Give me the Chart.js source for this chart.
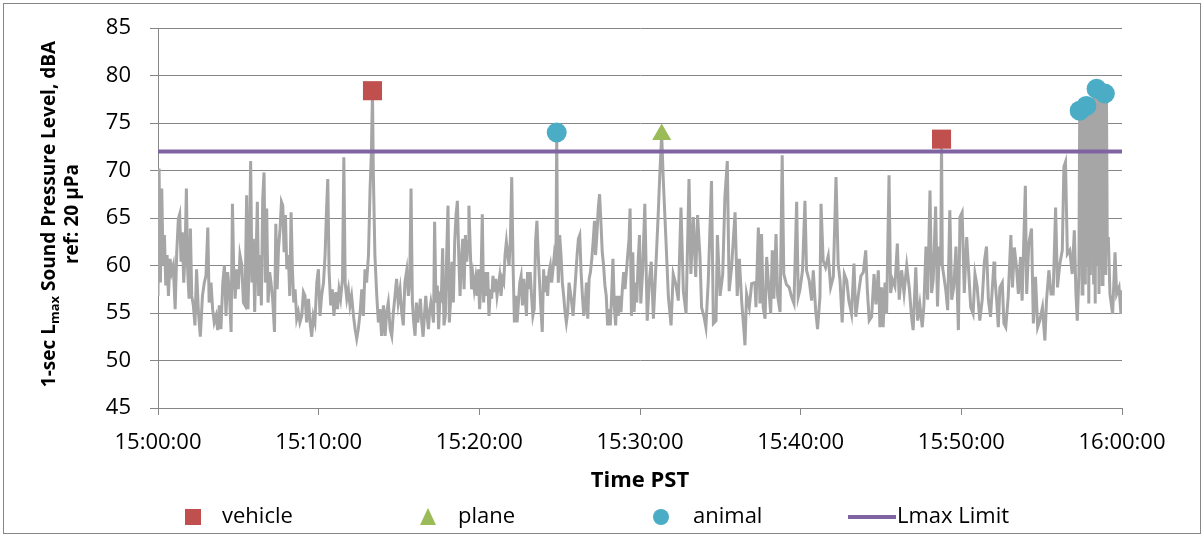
<!DOCTYPE html>
<html>
<head>
<meta charset="utf-8">
<script src="https://cdn.jsdelivr.net/npm/chart.js@4.4.0/dist/chart.umd.min.js"></script>
<style>
  html, body { margin: 0; padding: 0; background: #fff; }
  #wrap { width: 1204px; height: 537px; }
</style>
</head>
<body>
<div id="wrap"><canvas id="lmaxChart" width="1204" height="537"></canvas></div>
<script>
// 1-sec Lmax samples, seconds after 15:00:00 and dBA
var splSeconds = [
  0,4,9,14,19,24,29,34,39,45,51,57,64,70,76,81,86,91,96,101,106,111,116,121,126,132,138,144,151,158,166,173,179,186,191,198,204,210,217,223,
  229,235,242,248,254,260,266,273,278,283,288,294,300,306,313,319,325,331,336,341,346,351,356,361,366,371,376,381,386,391,396,401,406,411,417,422,428,435,440,445,
  450,456,461,466,471,476,481,487,492,497,502,507,512,518,524,530,537,543,549,555,562,568,574,580,586,593,599,605,611,618,624,629,634,639,645,651,657,664,670,676,
  682,689,694,699,705,711,717,723,730,736,742,748,755,761,767,773,779,786,792,797,801,804,810,817,823,829,835,842,848,854,860,867,873,879,
  885,891,897,904,910,916,922,929,935,940,945,950,955,960,965,970,975,980,985,990,995,1000,1005,1010,1014,1019,1024,1029,1033,1038,1043,1048,1053,1058,1063,1068,1073,1078,1083,1088,
  1093,1098,1103,1108,1113,1118,1123,1128,1133,1138,1143,1148,1153,1158,1161,1166,1171,1176,1181,1186,1191,1196,1201,1206,1211,1216,1221,1226,1231,1236,1241,1246,1251,1256,1261,1266,1271,1276,1281,1286,
  1291,1296,1301,1306,1311,1316,1321,1326,1331,1336,1341,1346,1351,1356,1361,1366,1371,1376,1380,1385,1390,1395,1400,1405,1410,1415,1420,1425,1430,1435,1440,1445,1450,1455,1460,1465,1470,1475,1480,1486,
  1489,1492,1495,1500,1505,1510,1515,1520,1525,1530,1535,1540,1545,1550,1555,1560,1565,1570,1575,1580,1585,1590,1595,1600,1605,1610,1615,1620,1625,1630,1634,1639,1644,1649,1654,1659,1664,1669,1674,1679,
  1684,1689,1694,1699,1704,1709,1714,1719,1724,1729,1734,1739,1744,1749,1754,1759,1763,1768,1773,1778,1783,1788,1793,1798,
  1803,1810,1818,1827,1835,1842,1850,1858,1868,1874,1881,1887,1897,1906,1916,1924,1934,1943,1953,1962,1972,1983,1990,1999,2008,2015,2024,2030,2039,2046,2055,2067,2074,2084,2089,2099,2109,2117,2126,2133,2142,2155,2163,2171,2180,2188,2192,2198,2208,2217,2229,
  2233,2242,2248,2254,2260,2267,2273,2279,2288,2294,2300,2308,2314,2323,2331,2337,2347,2357,2366,2375,2385,2391,2397,2407,2416,2422,2432,2441,2447,2456,2463,2472,2476,2484,2493,2503,2512,2522,2532,2540,2547,2555,2563,2572,2580,2590,2599,2606,2615,2625,2634,2643,2649,2656,2665,2674,
  2681,2690,2696,2702,2708,2715,2721,2730,2736,2743,2752,2761,2768,2777,2786,2796,2806,2814,2820,2830,2837,2845,2854,2860,2868,2874,2883,2889,2895,2904,2911,2918,2923,2926,2929,2935,2942,2949,2957,2964,2972,2980,2989,2995,3003,3011,3020,3028,3035,3044,3051,3059,3069,3078,3086,3094,3101,3109,3122,
  3125,3132,3138,3144,3153,3159,3166,3175,3185,3191,3198,3206,3213,3221,3227,3239,3244,3252,3262,3269,3277,3285,3293,3303,3312,3318,3327,3335,3343,3352,3359,3368,3377,3383,3389,3396,3405,3414,3422,3428,3433,
  3439,3442,3445,3448,3451,3454,3457,3460,3463,3467,3470,3473,3476,3479,3482,3485,3488,3491,3494,3497,3500,3503,3505,3508,3511,3514,3517,3520,3523,3526,3529,3532,3536,3539,3542,3545,
  3549,3555,3565,3574,3580,3589,3596,3600
];
var splLevels = [
  56.8,70.2,58.2,68.1,60,63.2,57.9,61.1,56.8,60.7,59.3,60,55.4,61.4,64.9,65.4,60.4,63.5,58.2,61.1,68.1,59.3,56.5,63.9,56.8,55.8,53.7,59.6,55.1,52.5,56.8,58.2,58.9,64,56.1,58.2,55.4,54,54.7,53.2,
  55.8,53.3,58.2,60,54.7,59.3,57.5,53,66.5,59.3,56.5,59.6,57.5,61.1,60,56.1,55.8,67.4,55.4,61.1,71,58.2,62.8,55.1,60.4,66.7,56.8,61.1,55.8,67,69.8,58.2,66,56.1,59.3,58.2,56.5,53,64.4,57.5,
  61.8,63.9,66.7,66.3,61.4,65.3,59.6,61.1,56.8,65.6,59.6,56.1,57.5,54.4,55.1,54,54.7,57.2,56.8,54,56.5,54,52.5,54.7,54,58.2,59.6,54.7,56.8,58.2,61.1,65.6,69.1,59.3,55.8,57.5,54.7,57.2,55.4,57.5,
  56.5,58.6,71.4,58.2,56.5,57.5,55.8,56.8,54.7,53.3,52.3,53.3,55.1,57.5,54.7,59.6,58.2,61.1,68.1,72,78.4,70,61.1,56.8,54,55.4,52.6,55.8,52.6,55.1,56.1,53.3,52.6,55.1,
  56.8,58.6,56.1,57.5,55.1,53.7,58.2,59.5,56.8,58.2,68.1,56.1,54,52.6,56.1,54,55.1,56.5,54,52.5,54.7,56.8,54.7,53.3,55.1,56.1,55.1,54,64.6,56.1,57.9,53.3,56.8,56.5,61.8,53.7,54.7,61.1,66.3,54,
  56.5,60.4,56.1,62.5,65.3,66.8,61.1,56.8,60.7,62.8,57.5,63.2,60.4,62.5,66.3,61.8,57.5,58.9,57.5,58.6,56.8,59.6,55.4,58.2,65.4,56.1,59.3,56.8,59.3,54.7,57.5,56.5,58.9,57.2,58.6,56.8,57.9,58.9,56.8,58.6,
  58.2,61.1,62.5,61.1,60,62.8,69.3,60,54,56.8,54,56.1,58.2,58.9,55.8,58.6,56.8,54.7,59.3,57.5,59.3,56.8,54.7,55.4,62.5,64.7,61.1,58.2,55.4,53,59.6,57.2,58.9,56.8,59.3,60,58.2,59.6,61.1,60,
  74,62,58.2,63.2,61.1,58.2,56.8,55.1,54,55.1,58.2,57.2,56.1,54.7,56.8,58.9,61.1,62.8,63.2,59.3,56.8,54.7,55.8,58.2,54.4,58.6,59.3,60.7,62.5,64.7,61.1,63.2,66,67.5,64.6,61.4,60,57.9,56.8,53.7,
  55.4,53.7,56.8,60.7,55.8,53.7,56.8,54.7,56.8,55.1,57.5,59.3,57.5,59.3,61.1,62.8,66,54.7,61.4,55.1,58.2,56.1,60.4,63.2,
  56,59.5,66.5,54.2,58.4,60.4,54.4,59.1,65.4,69.6,73.8,69,62.6,56.7,53.7,59.1,58,56.3,66.1,57.3,54.9,69.1,59.1,65.1,58.8,65.3,60.9,55.6,54.6,53.5,58.4,68.9,53.9,54.2,63.2,56.8,59.1,67.2,71,57.3,59.8,65.6,56.8,60.7,56.1,53.2,51.6,57,55.6,58.1,58.2,
  55.6,64,56,63.3,55.6,54.4,60.9,58.4,54.9,61.6,56.5,63.3,56.8,55.1,71.6,59.1,58,57.7,56.7,56,66.7,56.7,57.4,59.5,66.8,59.5,58.4,56.3,59.5,55.3,53.3,56.7,66.5,60.5,59.8,61,57.7,58.8,69.3,60.2,58.4,54,59.1,58.4,56.3,54.9,60.2,54.6,56.8,58.9,59.3,61.6,57.4,54.2,54.6,59.1,
  55.9,59.5,53.5,57.7,53.5,58.2,54.9,69.5,57.1,58.5,57.8,62.3,56.4,59.5,57.1,60,57.5,54.6,53.2,59.8,54.2,55.9,53.5,55.7,62,56.4,67.9,57.1,58.5,66.2,55.7,62,60,73.3,60,58.8,57.4,55.3,65.8,56.4,57.8,62,53.2,65.1,65.6,57.1,63,59.1,55.6,54.9,59.1,57.8,54.2,56.4,60.4,62,56.4,54.6,60.4,
  58.8,56.3,53.5,57.7,58.2,53.9,53.5,56.7,63.2,57.7,61.9,59.8,57,60.9,56.3,68.4,57,62.3,63.9,53.9,58.8,53.5,54.2,55.6,52.1,56.3,59.5,57,57,66.1,57.7,60.2,61.6,70.4,70.9,61.2,61.6,59.1,63.7,57,54.2,
  59,76.3,60,76,57,76.4,61,76.2,58,76.8,60,76.5,56,77,59,77.2,62,77.5,58,77.8,56,78.2,78.6,60,78.3,57,78.4,61,78,58,77.8,60,78.1,59,77.6,62,
  63,57,54.9,61.4,57,57.7,54.9,57.4
];

var vehicleSeconds = [801, 2926];
var vehicleLevels = [78.4, 73.3];
var planeSeconds = [1881];
var planeLevels = [73.8];
var animalSeconds = [1489, 3442, 3467, 3505, 3536];
var animalLevels = [74, 76.3, 76.8, 78.6, 78.1];
var limitSeconds = [0, 3600];
var limitLevels = [72, 72];

var xTickLabels = ['15:00:00','15:10:00','15:20:00','15:30:00','15:40:00','15:50:00','16:00:00'];
var xTitle = 'Time PST';
var yTitleParts = ['1-sec L', 'max', ' Sound Pressure Level, dBA'];
var yTitleLine2 = 'ref: 20 \u00b5Pa';
var legendNames = ['vehicle', 'plane', 'animal', 'Lmax Limit'];

var chartFont = "'Open Sans', sans-serif";
var axisGray = '#868686';

function toPoints(xs, ys) {
  return xs.map(function (x, i) { return {x: x, y: ys[i]}; });
}

function drawYTitle(chart) {
  var ctx = chart.ctx;
  var area = chart.chartArea;
  var cy = (area.top + area.bottom) / 2 - 4;
  var big = 'bold 19px ' + chartFont;
  var small = 'bold 13px ' + chartFont;
  var parts = [[yTitleParts[0], big, 0], [yTitleParts[1], small, 5], [yTitleParts[2], big, 0]];
  ctx.save();
  ctx.fillStyle = '#000';
  ctx.textBaseline = 'middle';
  ctx.translate(50, cy);
  ctx.rotate(-Math.PI / 2);
  var total = 0;
  parts.forEach(function (p) { ctx.font = p[1]; total += ctx.measureText(p[0]).width; });
  var x = -total / 2;
  ctx.textAlign = 'left';
  parts.forEach(function (p) {
    ctx.font = p[1];
    ctx.fillText(p[0], x, p[2]);
    x += ctx.measureText(p[0]).width;
  });
  ctx.font = big;
  ctx.textAlign = 'center';
  ctx.fillText(yTitleLine2, 0, 23);
  ctx.restore();
}

// Excel style legend: fixed columns under the plot
var legendSlots = [
  {marker: 193, text: 222},
  {marker: 428, text: 458},
  {marker: 661, text: 693},
  {marker: 872, text: 897}
];

function drawLegend(chart) {
  var ctx = chart.ctx;
  var y = 517;
  ctx.save();
  ctx.textBaseline = 'middle';
  ctx.textAlign = 'left';
  ctx.font = '22px ' + chartFont;
  legendSlots.forEach(function (slot, i) {
    var ds = chart.data.datasets[i];
    var c = ds.borderColor;
    ctx.fillStyle = c;
    ctx.strokeStyle = c;
    if (i === 0) {
      ctx.fillRect(slot.marker - 8, y - 8, 16, 16);
    } else if (i === 1) {
      ctx.beginPath();
      ctx.moveTo(slot.marker, y - 9);
      ctx.lineTo(slot.marker + 8, y + 8);
      ctx.lineTo(slot.marker - 8, y + 8);
      ctx.closePath();
      ctx.fill();
    } else if (i === 2) {
      ctx.beginPath();
      ctx.arc(slot.marker, y, 8, 0, Math.PI * 2);
      ctx.fill();
    } else {
      ctx.lineWidth = 4;
      ctx.beginPath();
      ctx.moveTo(slot.marker - 24, y);
      ctx.lineTo(slot.marker + 24, y);
      ctx.stroke();
    }
    ctx.fillStyle = '#000';
    ctx.fillText(legendNames[i], slot.text, y);
  });
  ctx.restore();
}

var frameAndLabels = {
  id: 'frameAndLabels',
  beforeDraw: function (chart) {
    var ctx = chart.ctx;
    ctx.save();
    ctx.fillStyle = '#fff';
    ctx.fillRect(0, 0, chart.width, chart.height);
    ctx.strokeStyle = axisGray;
    ctx.lineWidth = 1;
    ctx.strokeRect(3.5, 3.5, chart.width - 7, chart.height - 7);
    ctx.restore();
  },
  afterDraw: function (chart) {
    drawYTitle(chart);
    drawLegend(chart);
  }
};

var ctxL = document.getElementById('lmaxChart').getContext('2d');
var myChart = new Chart(ctxL, {
  type: 'line',
  data: {
    datasets: [
      {
        label: legendNames[0],
        data: toPoints(vehicleSeconds, vehicleLevels),
        showLine: false,
        pointStyle: 'rect',
        pointRadius: 13.5,
        backgroundColor: '#C0504D',
        borderColor: '#C0504D',
        pointBorderWidth: 0
      },
      {
        label: legendNames[1],
        data: toPoints(planeSeconds, planeLevels),
        showLine: false,
        pointStyle: 'triangle',
        pointRadius: 11,
        backgroundColor: '#9BBB59',
        borderColor: '#9BBB59',
        pointBorderWidth: 0
      },
      {
        label: legendNames[2],
        data: toPoints(animalSeconds, animalLevels),
        showLine: false,
        pointStyle: 'circle',
        pointRadius: 10,
        backgroundColor: '#4BACC6',
        borderColor: '#4BACC6',
        pointBorderWidth: 0
      },
      {
        label: legendNames[3],
        data: toPoints(limitSeconds, limitLevels),
        borderColor: '#8064A2',
        borderWidth: 4,
        pointRadius: 0
      },
      {
        label: '1-sec Lmax',
        data: toPoints(splSeconds, splLevels),
        borderColor: '#A6A6A6',
        borderWidth: 3,
        pointRadius: 0,
        tension: 0
      }
    ]
  },
  options: {
    responsive: false,
    animation: false,
    events: [],
    layout: { padding: { top: 28, right: 82, bottom: 40, left: 0 } },
    plugins: {
      legend: { display: false },
      tooltip: { enabled: false }
    },
    scales: {
      x: {
        type: 'linear',
        min: 0,
        max: 3600,
        ticks: {
          stepSize: 600,
          autoSkip: false,
          maxRotation: 0,
          padding: 15,
          color: '#000',
          font: { family: chartFont, size: 22 },
          callback: function (v) { return xTickLabels[Math.round(v / 600)]; }
        },
        grid: { drawOnChartArea: false, drawTicks: true, tickLength: 7, color: axisGray },
        border: { color: axisGray, width: 1 },
        title: {
          display: true,
          text: xTitle,
          color: '#000',
          font: { family: chartFont, size: 22, weight: 'bold' },
          padding: { top: 0, bottom: 3 }
        },
        afterFit: function (s) { s.height = 89; }
      },
      y: {
        min: 45,
        max: 85,
        ticks: {
          stepSize: 5,
          padding: 19,
          color: '#000',
          font: { family: chartFont, size: 22 }
        },
        grid: { color: axisGray, tickLength: 8 },
        border: { color: axisGray, width: 1 },
        afterFit: function (s) {
          s.width = 158;
          s.paddingTop = 4;
          s.paddingBottom = 4;
        }
      }
    }
  },
  plugins: [frameAndLabels]
});
</script>
</body>
</html>
